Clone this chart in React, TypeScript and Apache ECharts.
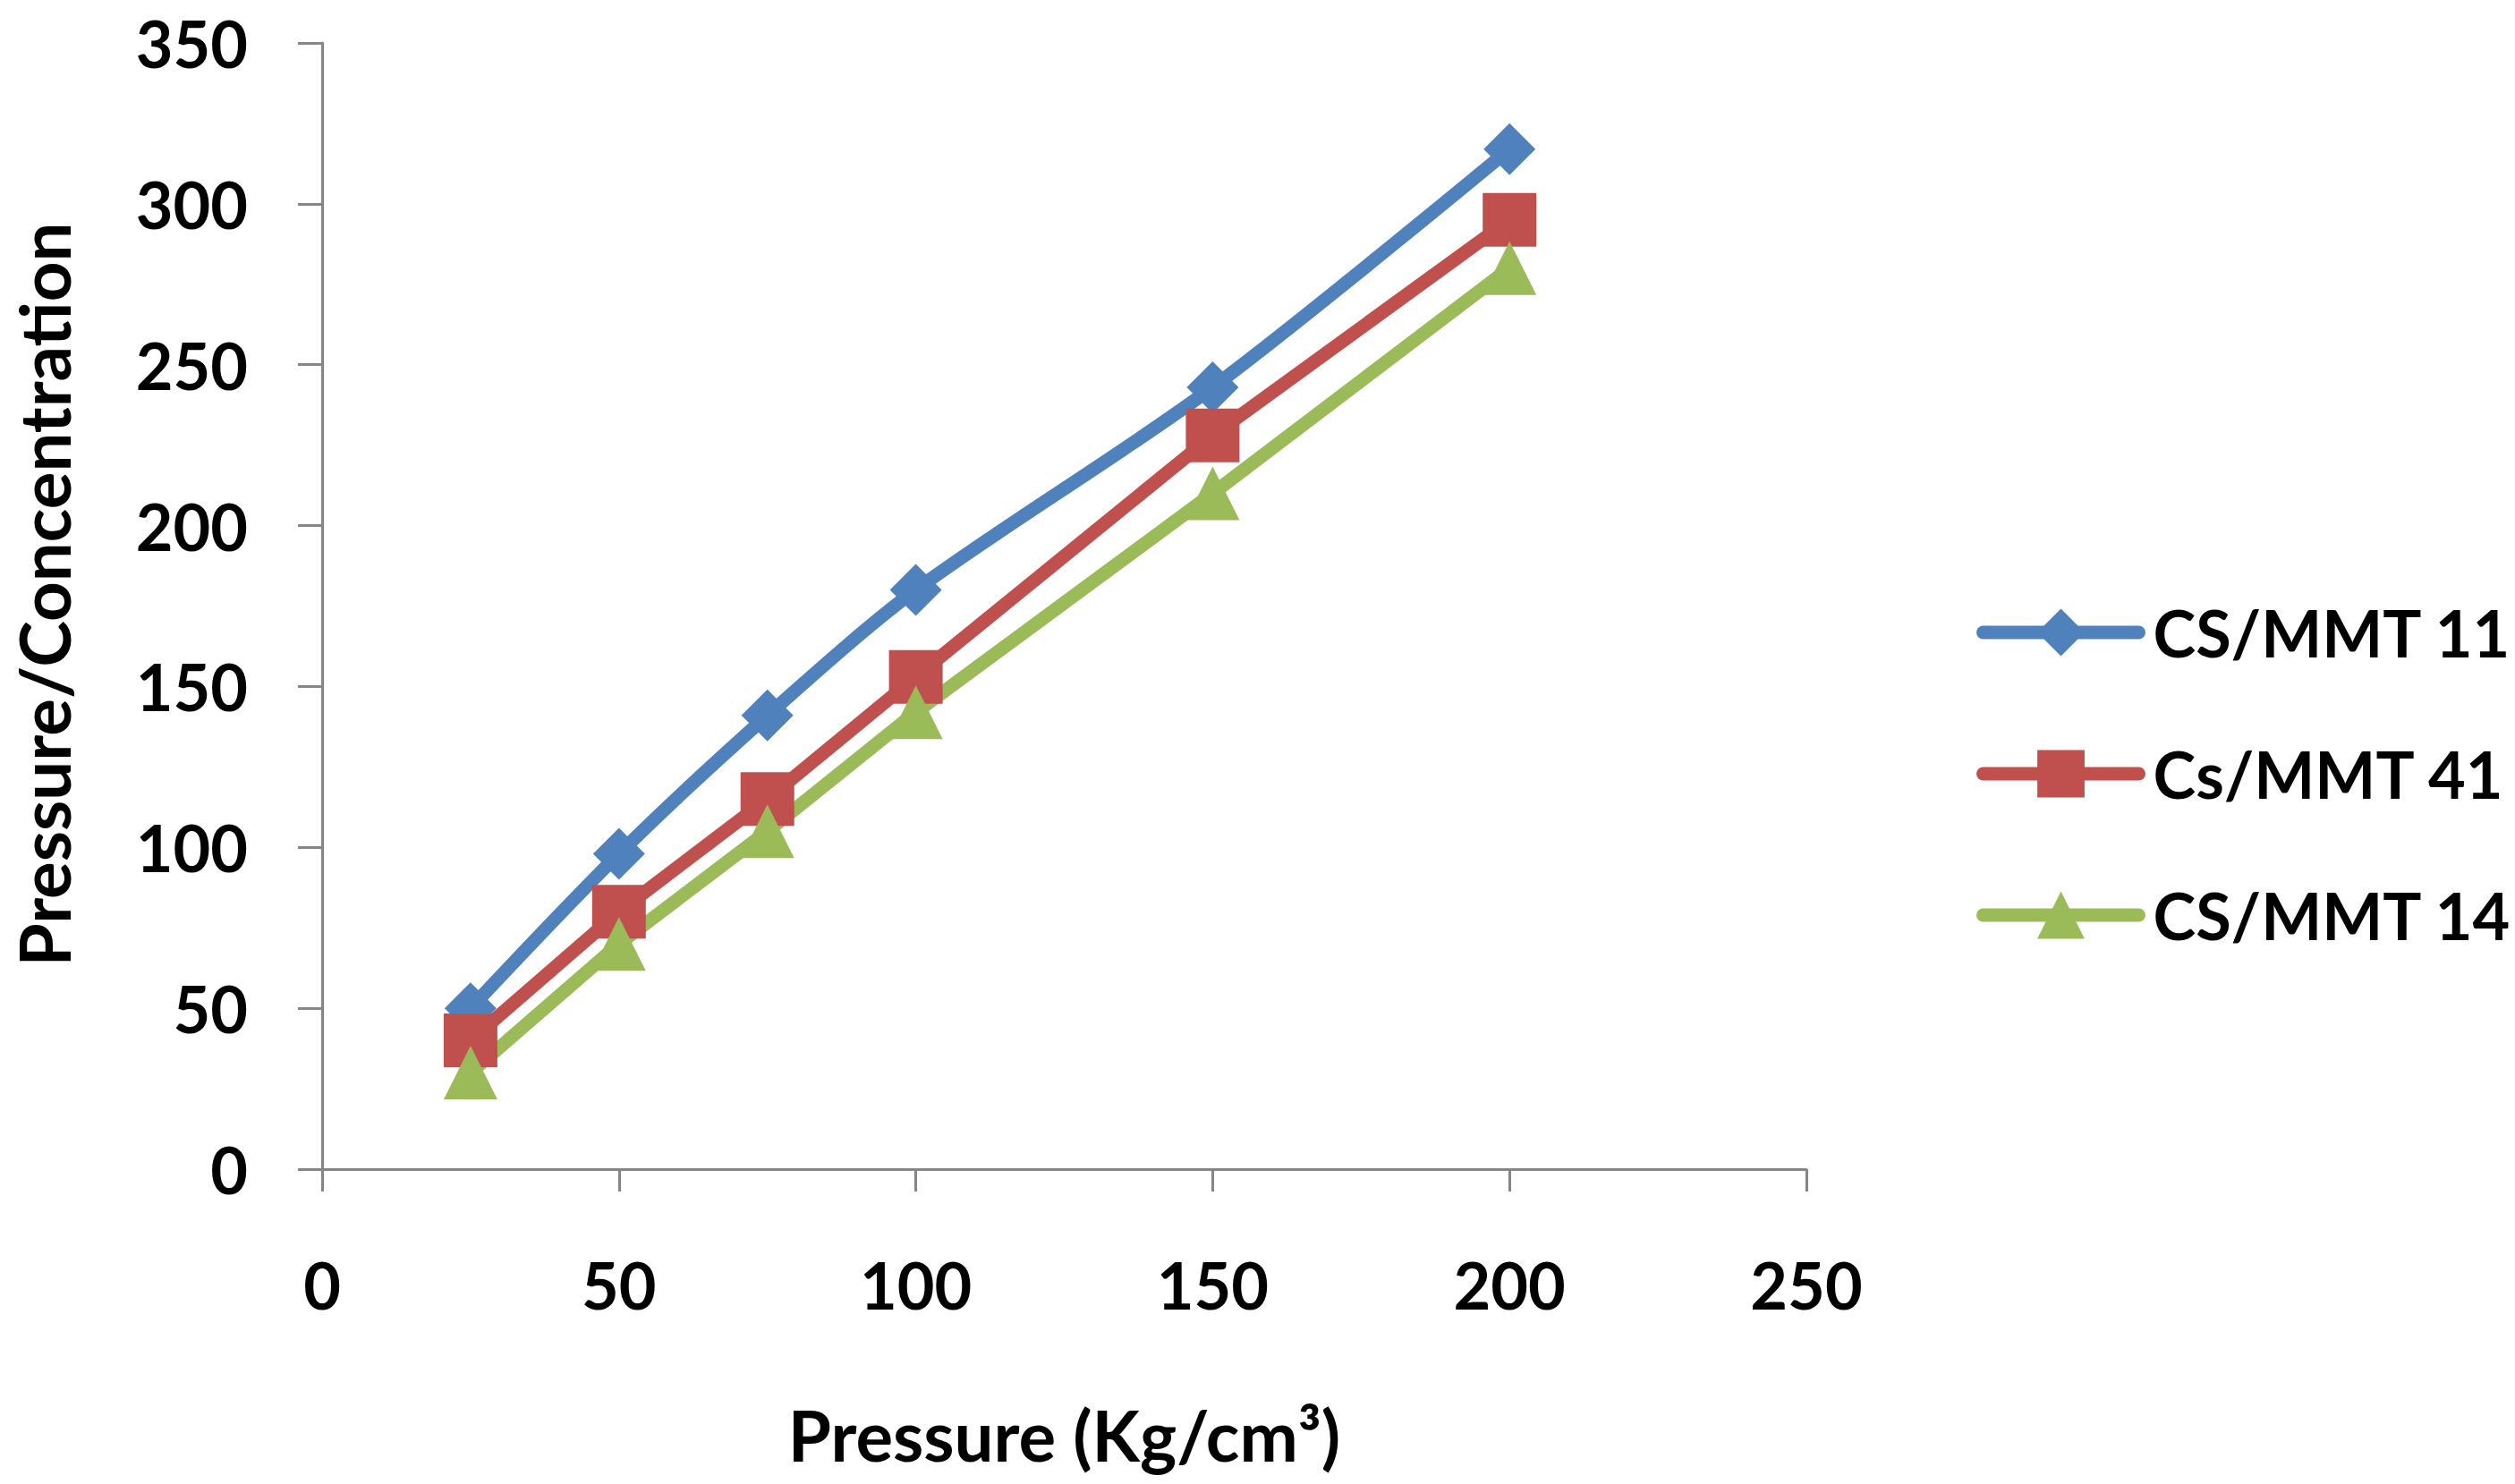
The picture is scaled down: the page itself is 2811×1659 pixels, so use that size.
import { useEffect, useRef } from 'react';
import * as echarts from 'echarts';

// 压力 (x) 与三组样品的数值
const pressure = [25, 50, 75, 100, 150, 200];
const cs11 = [50, 98, 141, 180, 243, 317];
const cs41 = [40, 80, 115, 153, 228, 295];
const cs14 = [30, 70, 105, 142, 210, 280];

const seriesNames = ['CS/MMT 11', 'Cs/MMT 41', 'CS/MMT 14'];
const seriesColors = ['#4F81BD', '#C0504D', '#9BBB59'];
const seriesSymbols = ['diamond', 'rect', 'triangle'];

const FONT = 'Lato, "Open Sans", sans-serif';
const AXIS_GRAY = '#868686';
const LINE_W = 15;

export default function App() {
  const chartRef = useRef<HTMLDivElement>(null);

  useEffect(() => {
    if (!chartRef.current) return;
    const chart = echarts.init(chartRef.current, undefined, { renderer: 'svg' });

    const values = [cs11, cs41, cs14];
    const series: any[] = values.map((vals, i) => ({
      name: seriesNames[i],
      type: 'line',
      data: pressure.map((p, j) => [p, vals[j]]),
      smooth: i === 0 ? 0.3 : false,
      symbol: seriesSymbols[i],
      symbolSize: i === 0 ? 58 : 60,
      lineStyle: { color: seriesColors[i], width: LINE_W, cap: 'round', join: 'round' },
      itemStyle: { color: seriesColors[i] },
      emphasis: { disabled: true }
    }));

    const option: echarts.EChartsOption = {
      animation: false,
      textStyle: { fontFamily: FONT },
      grid: { left: 360, top: 48, width: 1659, height: 1259, containLabel: false },
      legend: {
        orient: 'vertical',
        left: 2209,
        top: 671,
        padding: 0,
        itemWidth: 174,
        itemHeight: 66,
        itemGap: 86,
        data: seriesNames,
        lineStyle: { width: LINE_W, cap: 'round' },
        textStyle: {
          fontFamily: FONT,
          fontSize: 72,
          fontWeight: 'bold',
          color: '#000',
          padding: [0, 0, 0, 11]
        }
      },
      xAxis: {
        type: 'value',
        min: 0,
        max: 250,
        interval: 50,
        name: 'Pressure (Kg/cm³)',
        nameLocation: 'middle',
        nameGap: 258,
        nameTextStyle: { fontFamily: FONT, fontSize: 78, fontWeight: 'bold', color: '#000' },
        axisLine: { show: true, onZero: false, lineStyle: { color: AXIS_GRAY, width: 3 } },
        axisTick: { show: true, length: 25, lineStyle: { color: AXIS_GRAY, width: 3 } },
        axisLabel: { margin: 93, fontFamily: FONT, fontSize: 72, fontWeight: 'bold', color: '#000' },
        splitLine: { show: false }
      },
      yAxis: {
        type: 'value',
        min: 0,
        max: 350,
        interval: 50,
        name: 'Pressure/Concentration',
        nameLocation: 'middle',
        nameGap: 272,
        nameTextStyle: {
          fontFamily: FONT,
          fontSize: 78,
          fontWeight: 'bold',
          color: '#000',
          padding: [0, 0, 0, 26]
        },
        axisLine: { show: true, onZero: false, lineStyle: { color: AXIS_GRAY, width: 3 } },
        axisTick: { show: true, length: 27, lineStyle: { color: AXIS_GRAY, width: 3 } },
        axisLabel: { margin: 83, fontFamily: FONT, fontSize: 72, fontWeight: 'bold', color: '#000' },
        splitLine: { show: false }
      },
      series
    };

    chart.setOption(option);

    const handleResize = () => chart.resize();
    window.addEventListener('resize', handleResize);
    return () => {
      window.removeEventListener('resize', handleResize);
      chart.dispose();
    };
  }, []);

  return (
    <div
      ref={chartRef}
      style={{ position: 'fixed', left: 0, top: 0, width: '100vw', height: '100vh', background: '#fff' }}
    />
  );
}
